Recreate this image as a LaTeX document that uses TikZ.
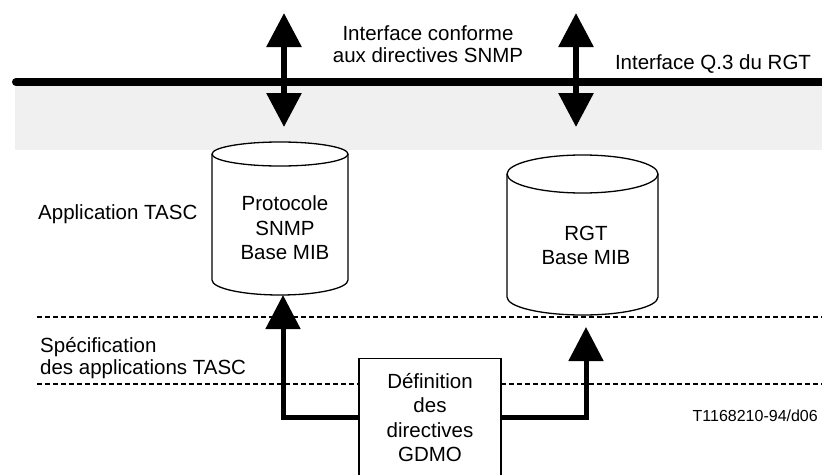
\documentclass[tikz,border=0pt]{standalone}
\usepackage{fontspec}
\setmainfont{Liberation Sans}
\usetikzlibrary{arrows.meta}
\definecolor{bandgray}{HTML}{F0F0F0}
\begin{document}
\begin{tikzpicture}[x=1pt,y=-1pt,
  txt/.style={font=\fontsize{20.5}{22}\selectfont, inner sep=0pt},
  cyltxt/.style={font=\fontsize{20.5}{24.5}\selectfont, inner sep=0pt, align=center},
  bigtip/.tip={Triangle[length=34pt,width=34pt]},
  smalltip/.tip={Triangle[length=34pt,width=34pt]},
  busarrow/.style={line width=6pt, bigtip-bigtip},
  feedarrow/.style={line width=5pt, line join=miter, -smalltip},
  dashline/.style={line width=1.8pt, dash pattern=on 5pt off 3pt},
  cylline/.style={line width=1.3pt, fill=white},
]
\clip (0,0) rectangle (822,474);
% grey band and Q.3 bus
\fill[bandgray] (15,86) rectangle (822,150);
\draw[line width=8pt, line cap=round] (16,82) -- (830,82);
% dashed lines
\draw[dashline] (37,317) -- (822,317);
\draw[dashline] (37,384) -- (822,384);
% left cylinder
\filldraw[cylline] (212,154) -- (212,280) arc[start angle=180,end angle=0,x radius=68,y radius=15]
   -- (348,154) arc[start angle=0,end angle=-180,x radius=68,y radius=12] -- cycle;
\draw[line width=1.3pt] (212,154) arc[start angle=180,end angle=0,x radius=68,y radius=12];
% right cylinder
\filldraw[cylline] (507,174) -- (507,297) arc[start angle=180,end angle=0,x radius=75.5,y radius=18]
   -- (658,174) arc[start angle=0,end angle=-180,x radius=75.5,y radius=19] -- cycle;
\draw[line width=1.3pt] (507,174) arc[start angle=180,end angle=0,x radius=75.5,y radius=19];
% coordinates
\coordinate (lt) at (284,13);
\coordinate (lb) at (284,127);
\coordinate (rt) at (576,13);
\coordinate (rb) at (576,127);
\coordinate (cylLbot) at (283,295);
\coordinate (rgtin) at (586,327);
% GDMO box
\node[draw, line width=1.3pt, fill=white, minimum width=142pt, minimum height=118pt,
      anchor=north, cyltxt] (def) at (430,358) {Définition\\des\\directives\\GDMO};
% arrows
\draw[busarrow] (lt) -- (lb);
\draw[busarrow] (rt) -- (rb);
\draw[feedarrow] (def.west) -| (cylLbot);
\draw[feedarrow] (def.east) -| (rgtin);
% texts
\node[txt, align=center, anchor=north] (iface) at (428,25.4) {Interface conforme\\aux directives SNMP};
\node[txt, anchor=base] (q3) at (713,69) {Interface Q.3 du RGT};
\node[txt, anchor=base west] (app) at (38,219) {Application TASC};
\node[txt, align=left, anchor=north west] (spec) at (40,337.5) {Spécification\\des applications TASC};
\node[cyltxt, anchor=north] (proto) at (285,195.5) {Protocole\\SNMP\\Base MIB};
\node[cyltxt, anchor=north] (rgt) at (586,225.7) {RGT\\Base MIB};
\node[inner sep=0pt, font=\fontsize{16}{18}\selectfont, anchor=base east] (ref) at (818,421) {T1168210-94/d06};
\end{tikzpicture}
\end{document}
